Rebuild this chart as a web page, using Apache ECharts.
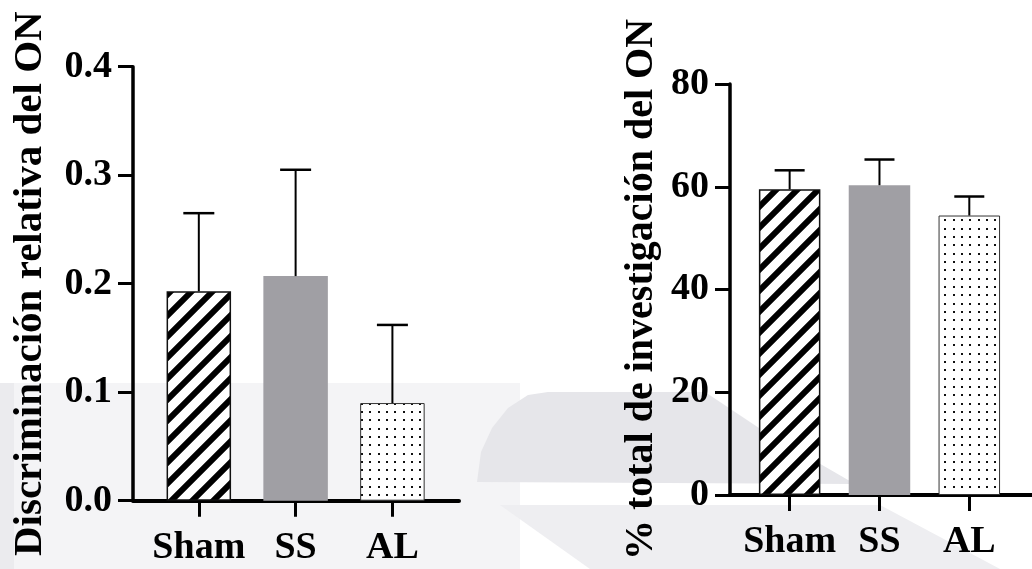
<!DOCTYPE html>
<html>
<head>
<meta charset="utf-8">
<script src="https://cdn.jsdelivr.net/npm/echarts@6/dist/echarts.min.js"></script>
<style>
  html, body { margin: 0; padding: 0; background: #ffffff; }
  #chart { width: 1032px; height: 569px; }
</style>
</head>
<body>
<div id="chart"></div>
<script>
// Group labels shared by both panels
const categories = ['Sham', 'SS', 'AL'];

// Panel A: relative discrimination of the novel object (mean, SEM)
const discMeans = [0.193, 0.207, 0.090];
const discSem = [0.072, 0.098, 0.072];
const discTicks = [0, 0.1, 0.2, 0.3, 0.4];

// Panel B: % of total investigation time on the novel object (mean, SEM)
const invMeans = [59.5, 60.3, 54.4];
const invSem = [3.7, 5.0, 3.7];
const invTicks = [0, 20, 40, 60, 80];

const FONT = '"Liberation Serif", "Times New Roman", serif';

// Diagonal hatch fill
function makeHatch() {
  const P = 21;
  const c = document.createElement('canvas');
  c.width = P; c.height = P;
  const g = c.getContext('2d');
  g.fillStyle = '#ffffff';
  g.fillRect(0, 0, P, P);
  g.strokeStyle = '#000000';
  g.lineWidth = 6;
  g.beginPath();
  g.moveTo(-P, P); g.lineTo(P, -P);
  g.moveTo(0, P); g.lineTo(P, 0);
  g.moveTo(0, 2 * P); g.lineTo(2 * P, 0);
  g.stroke();
  return c;
}

// Dotted fill
function makeDots() {
  const P = 25;
  const c = document.createElement('canvas');
  c.width = P; c.height = P;
  const g = c.getContext('2d');
  g.fillStyle = '#ffffff';
  g.fillRect(0, 0, P, P);
  g.fillStyle = '#111111';
  const pos = [3, 11, 19];
  pos.forEach(function (x) {
    pos.forEach(function (y) { g.fillRect(x, y, 2, 2); });
  });
  return c;
}

const hatch = { image: makeHatch(), repeat: 'repeat' };
const dots = { image: makeDots(), repeat: 'repeat' };
const groupStyles = [
  { color: hatch, borderColor: '#111111', borderWidth: 1.5 },
  { color: '#a09fa4', borderWidth: 0 },
  { color: dots, borderColor: '#333333', borderWidth: 1 }
];

function barData(means) {
  return means.map(function (v, i) {
    return { value: [i, v], itemStyle: groupStyles[i] };
  });
}
function errData(means, sem) {
  return means.map(function (v, i) { return [i, v, v + sem[i]]; });
}
function errRenderer(capHalf) {
  return function (params, api) {
    const x = api.value(0);
    const lo = api.coord([x, api.value(1)]);
    const hi = api.coord([x, api.value(2)]);
    return {
      type: 'group',
      children: [
        { type: 'line', shape: { x1: lo[0], y1: lo[1], x2: hi[0], y2: hi[1] }, style: { stroke: '#000000', lineWidth: 2 } },
        { type: 'line', shape: { x1: hi[0] - capHalf, y1: hi[1], x2: hi[0] + capHalf, y2: hi[1] }, style: { stroke: '#000000', lineWidth: 2.5 } }
      ]
    };
  };
}

function xAxisOf(gridIndex, min, max) {
  return {
    type: 'value', gridIndex: gridIndex, min: min, max: max,
    splitLine: { show: false },
    axisLine: { show: true, onZero: false, lineStyle: { color: '#000', width: 4 } },
    axisTick: { show: true, customValues: [0, 1, 2], length: 16, lineStyle: { color: '#000', width: 3 } },
    axisLabel: {
      customValues: [0, 1, 2], margin: 28,
      formatter: function (v) { return categories[Math.round(v)]; },
      fontFamily: FONT, fontWeight: 'bold', fontSize: 38, color: '#000'
    }
  };
}
function yAxisOf(gridIndex, ticks, name, gap, nameSize, digits) {
  return {
    type: 'value', gridIndex: gridIndex,
    min: ticks[0], max: ticks[ticks.length - 1], interval: ticks[1] - ticks[0],
    splitLine: { show: false },
    axisLine: { show: true, onZero: false, lineStyle: { color: '#000', width: 3.5 } },
    axisTick: { show: true, length: 15, lineStyle: { color: '#000', width: 3 } },
    axisLabel: {
      margin: 21, fontFamily: FONT, fontWeight: 'bold', fontSize: 38, color: '#000',
      formatter: function (v) { return v.toFixed(digits); }
    },
    name: name, nameLocation: 'middle', nameRotate: 90, nameGap: gap,
    nameTextStyle: { fontFamily: FONT, fontWeight: 'bold', fontSize: nameSize, color: '#000', padding: [0, 0, 0, 0] }
  };
}

const chart = echarts.init(document.getElementById('chart'), null, { renderer: 'canvas' });
chart.setOption({
  backgroundColor: '#ffffff',
  animation: false,
  graphic: [
    { type: 'rect', z: -10, shape: { x: 0, y: 383, width: 520, height: 186 }, style: { fill: '#f4f4f6' } },
    { type: 'rect', z: -9, shape: { x: 0, y: 383, width: 14, height: 186 }, style: { fill: '#ebebee' } },
    { type: 'polygon', z: -9, shape: { points: [[477, 482], [481, 452], [492, 428], [508, 408], [528, 395], [548, 392], [705, 392], [765, 432], [855, 484]] }, style: { fill: '#e6e6ea' } },
    { type: 'polygon', z: -9, shape: { points: [[500, 505], [880, 505], [1000, 569], [590, 569]] }, style: { fill: '#eeeef1' } }
  ],
  grid: [
    { left: 133, top: 66.7, width: 326, height: 434 },
    { left: 730, top: 84, width: 310, height: 411 }
  ],
  xAxis: [
    xAxisOf(0, -0.68, 2.688),
    xAxisOf(1, -0.664, 2.698)
  ],
  yAxis: [
    yAxisOf(0, discTicks, 'Discriminación relativa del ON', 82, 41, 1),
    yAxisOf(1, invTicks, '% total de investigación del ON', 68, 40, 0)
  ],
  series: [
    { type: 'bar', xAxisIndex: 0, yAxisIndex: 0, barWidth: 64.5, data: barData(discMeans), z: 2 },
    { type: 'custom', xAxisIndex: 0, yAxisIndex: 0, renderItem: errRenderer(15.5), data: errData(discMeans, discSem), z: 3 },
    { type: 'bar', xAxisIndex: 1, yAxisIndex: 1, barWidth: 61.5, data: barData(invMeans), z: 2 },
    { type: 'custom', xAxisIndex: 1, yAxisIndex: 1, renderItem: errRenderer(15), data: errData(invMeans, invSem), z: 3 }
  ]
});
</script>
</body>
</html>
